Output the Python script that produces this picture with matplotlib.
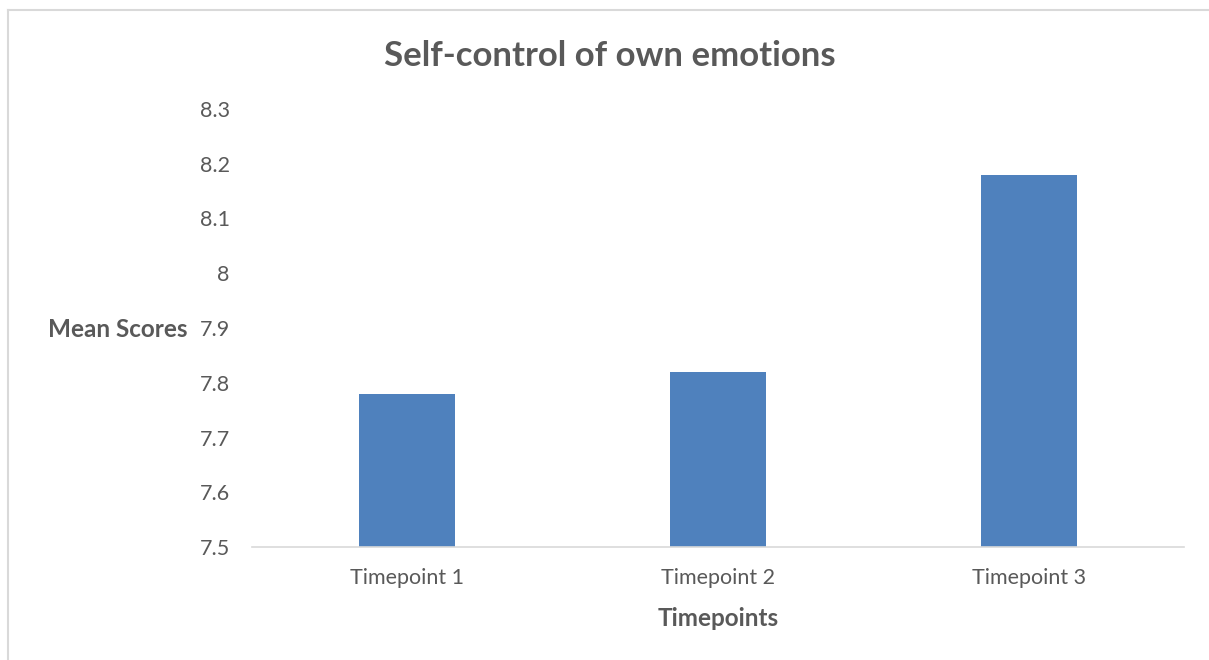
import matplotlib.pyplot as plt
from matplotlib.lines import Line2D

# データ
categories = ["Timepoint 1", "Timepoint 2", "Timepoint 3"]
mean_scores = [7.78, 7.82, 8.18]
y_ticks = [7.5, 7.6, 7.7, 7.8, 7.9, 8.0, 8.1, 8.2, 8.3]
y_tick_labels = ["7.5", "7.6", "7.7", "7.8", "7.9", "8", "8.1", "8.2", "8.3"]

plt.rcParams['font.family'] = ['Lato', 'DejaVu Sans']
W, H = 1209, 660
fig = plt.figure(figsize=(W / 100, H / 100), dpi=100)
ax = fig.add_axes([252 / W, 1 - 547 / H, (1184 - 252) / W, (547 - 109) / H])

x = range(len(categories))
ax.bar(x, mean_scores, width=0.31, color="#4F81BD", bottom=0)
ax.set_xlim(-0.5, 2.5)
ax.set_ylim(7.5, 8.3)
ax.set_yticks(y_ticks)
ax.set_yticklabels(y_tick_labels)
ax.set_xticks(list(x))
ax.set_xticklabels(categories)
ax.tick_params(axis="both", length=0, labelsize=15.5, labelcolor="#595959")
ax.tick_params(axis="y", pad=16)
ax.tick_params(axis="x", pad=15)
for s in ["top", "right", "left"]:
    ax.spines[s].set_visible(False)
ax.spines["bottom"].set_color("#d9d9d9")
ax.spines["bottom"].set_linewidth(1.2)

# タイトルとラベル
fig.text(610 / W, 1 - 56 / H, "Self-control of own emotions", ha="center", va="center",
         fontsize=25, fontweight="bold", color="#595959")
fig.text(187 / W, 1 - 329 / H, "Mean Scores", ha="right", va="center",
         fontsize=17.5, fontweight="bold", color="#595959")
fig.text(718 / W, 1 - 618 / H, "Timepoints", ha="center", va="center",
         fontsize=17.5, fontweight="bold", color="#595959")

# 枠線
fig.add_artist(Line2D([8 / W, 8 / W], [0, 1 - 10 / H], color="#d9d9d9", lw=1.5))
fig.add_artist(Line2D([8 / W, 1], [1 - 10 / H, 1 - 10 / H], color="#d9d9d9", lw=1.5))

fig.savefig("out.png", dpi=100)
